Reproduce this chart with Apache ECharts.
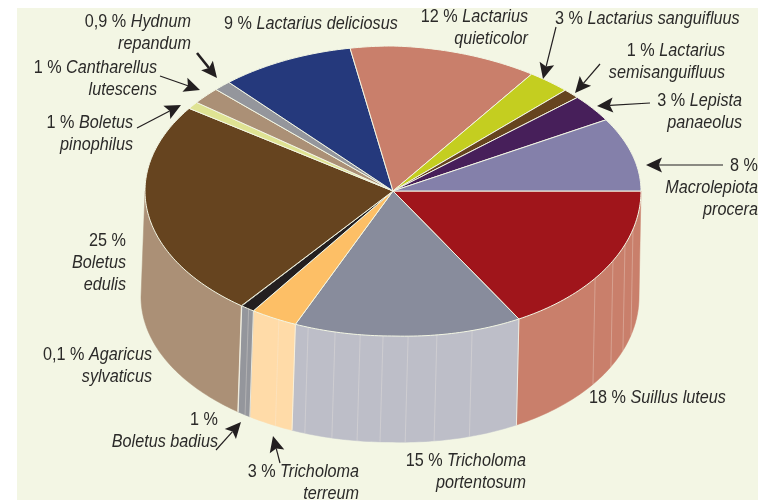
<!DOCTYPE html>
<html><head><meta charset="utf-8">
<style>html,body{margin:0;padding:0;background:#fff}#c{width:758px;height:500px}</style>
<script src="https://cdn.jsdelivr.net/npm/echarts@6/dist/echarts.min.js"></script>
</head><body><div id="c"></div>
<script>
// Species, clockwise from the 3 o'clock position
const species = ['Suillus luteus','Tricholoma portentosum','Tricholoma terreum','Boletus badius','Agaricus sylvaticus','Boletus edulis','Boletus pinophilus','Cantharellus lutescens','Hydnum repandum','Lactarius deliciosus','Lactarius quieticolor','Lactarius sanguifluus','Lactarius semisanguifluus','Lepista panaeolus','Macrolepiota procera'];
// Printed percentages
const printed = ['18','15','3','1','0,1','25','1','1','0,9','9','12','3','1','3','8'];
// Share of the circle each slice really occupies in the picture (percent)
const drawnShare = [16.53,14.92,3.08,0.92,0.03,24.19,0.81,1.89,1.14,8.75,12.22,2.78,1.11,3.11,8.56];
const topColors = ['#A0151B','#888C9C','#FDBF66','#231F20','#231F20','#66441F','#DFE393','#AB9076','#94969C','#25397C','#C97F6B','#C4CE20','#66441F','#471F5A','#8480AA'];
const sideColors = ['#C97F6B','#BDBEC8','#FFDBA8','#94969C','#94969C','#AB9076','#DFE393','#AB9076','#94969C','#25397C','#C97F6B','#C4CE20','#66441F','#471F5A','#8480AA'];
// Faint facet lines on the wall, as angles clockwise from 3 o'clock
const wallStreaks = [14.6,20.7,27.5,35.4,71.4,79.8,86.5,92.3,97.6,103.5,110,117.4,125.6];

const TOP = {cx:393, cy:191, rx:248, ry:145};
const BOT = {cx:390, cy:297, rx:249, ry:145};
const BG = '#F3F6E4';
const rad = d => d*Math.PI/180;
// the printed ellipse sags slightly on its right half
const pt = (e,d) => { const c=Math.cos(rad(d)), s=Math.sin(rad(d));
  return [e.cx+e.rx*c, e.cy+e.ry*s+(c>0?3.5*Math.abs(Math.sin(rad(2*d))):0)]; };
const arc = (e,a,b) => { const n=Math.max(2,Math.ceil(Math.abs(b-a))), o=[]; for(let i=0;i<=n;i++) o.push(pt(e,a+(b-a)*i/n)); return o; };

const total = drawnShare.reduce((s,v)=>s+v,0);
let acc = 0;
const spans = drawnShare.map(v => { const a=acc/total*360; acc+=v; return [a,acc/total*360]; });

function renderItem(params, api){
  const i = api.value(0), a = api.value(1), b = api.value(2), layer = api.value(3);
  if(layer===0){
    const s=Math.max(a,0), e=Math.min(b,180);
    if(e<=s) return {type:'group',children:[]};
    const pts = arc(TOP,s,e).concat(arc(BOT,e,s));
    return {type:'polygon',shape:{points:pts},style:{fill:sideColors[i],stroke:sideColors[i],lineWidth:.5}};
  }
  if(layer===1){
    const d=api.value(1), p=pt(TOP,d), q=pt(BOT,d);
    return {type:'line',shape:{x1:p[0],y1:p[1],x2:q[0],y2:q[1]},style:{stroke:i?'rgba(248,246,232,.8)':'rgba(245,240,230,.3)',lineWidth:1}};
  }
  const pts = [[TOP.cx,TOP.cy]].concat(arc(TOP,a,b));
  return {type:'polygon',shape:{points:pts},style:{fill:topColors[i],stroke:BG,lineWidth:i===4?0:1,lineJoin:'round'}};
}

const sideData = spans.map((s,i)=>[i,s[0],s[1],0]);
const streakData = wallStreaks.map(d=>[0,d,d,1]).concat(spans.filter(s=>s[1]<135).map(s=>[1,s[1],s[1],1]));
const topData = spans.map((s,i)=>[i,s[0],s[1],2]);

function lbl(i){ return printed[i]+' % '; }
const textBlocks = [
 [191,22,'right',[[8,'Hydnum'],[null,'repandum']]],
 [157,68,'right',[[7,'Cantharellus'],[null,'lutescens']]],
 [133,123,'right',[[6,'Boletus'],[null,'pinophilus']]],
 [224,24,'left',[[9,'Lactarius deliciosus']]],
 [528,17,'right',[[10,'Lactarius'],[null,'quieticolor']]],
 [555,19,'left',[[11,'Lactarius sanguifluus']]],
 [725,51,'right',[[12,'Lactarius'],[null,'semisanguifluus']]],
 [742,101,'right',[[13,'Lepista'],[null,'panaeolus']]],
 [758,166,'right',[[14,''],[null,'Macrolepiota'],[null,'procera']]],
 [126,241,'right',[[5,''],[null,'Boletus'],[null,'edulis']]],
 [152,355,'right',[[4,'Agaricus'],[null,'sylvaticus']]],
 [218,420,'right',[[3,''],[null,'Boletus badius']]],
 [359,472,'right',[[2,'Tricholoma'],[null,'terreum']]],
 [526,461,'right',[[1,'Tricholoma'],[null,'portentosum']]],
 [589,398,'left',[[0,'Suillus luteus']]]
];
const LINE=22;
const FF='"Liberation Sans",sans-serif', FS=18, INK='#2B2A29';
const rich={n:{fontFamily:FF,fontSize:FS,fill:INK,fontStyle:'normal'},i:{fontFamily:FF,fontSize:FS,fill:INK,fontStyle:'italic'}};
const texts=[];
textBlocks.forEach(([x,y,align,lines])=>lines.forEach(([idx,name],k)=>{
  const s = idx===null ? `{i|${name}}` : (name ? `{n|${lbl(idx)}}{i|${name}}` : `{n|${printed[idx]} %}`);
  texts.push({type:'text',x:x,y:y+k*LINE,scaleX:.9,silent:true,style:{text:s,rich:rich,align:align,verticalAlign:'middle',textAlign:align,textVerticalAlign:'middle'}});
}));

// arrows: [tailX, tailY, tipX, tipY, shaft width, head scale]
const arrows=[[197,53,217,78,2.6,1],[160,76,200,90,1.2,1],[137,128,181,105,1.2,1],[556,27,543,79,1.2,1],[600,64,575,93,1.2,1],[650,103,597,106,1.2,1],[723,165,646,165,1.2,1],[216,450,241,422,1.2,1],[280,463,273,436,1.2,1]];
const arrowEls=[];
arrows.forEach(([x1,y1,x2,y2,lw,hs])=>{
  const L=Math.hypot(x2-x1,y2-y1),ux=(x2-x1)/L,uy=(y2-y1)/L,px=-uy,py=ux,h=16*hs,w=7.5*hs;
  const bx=x2-ux*h,by=y2-uy*h,nx=x2-ux*h*.8,ny=y2-uy*h*.8;
  arrowEls.push({type:'line',silent:true,shape:{x1,y1,x2:nx,y2:ny},style:{stroke:'#231F20',lineWidth:lw}});
  arrowEls.push({type:'polygon',silent:true,shape:{points:[[x2,y2],[bx+px*w,by+py*w],[nx,ny],[bx-px*w,by-py*w]]},style:{fill:'#231F20'}});
});

const chart=echarts.init(document.getElementById('c'),null,{renderer:'canvas'});
const mk=(data,z)=>({type:'custom',coordinateSystem:'none',renderItem,data,z,silent:true,animation:false,dimensions:['i','a','b','layer']});
chart.setOption({
  animation:false,backgroundColor:'#fff',tooltip:{show:false},
  graphic:{elements:[
    {type:'rect',z:-10,silent:true,shape:{x:17,y:8,width:741,height:492},style:{fill:BG}},
    ...texts.map(t=>({...t,z:20})),
    ...arrowEls.map(a=>({...a,z:20}))
  ]},
  series:[mk(sideData,2),mk(streakData,3),mk(topData,4)]
});
</script></body></html>
